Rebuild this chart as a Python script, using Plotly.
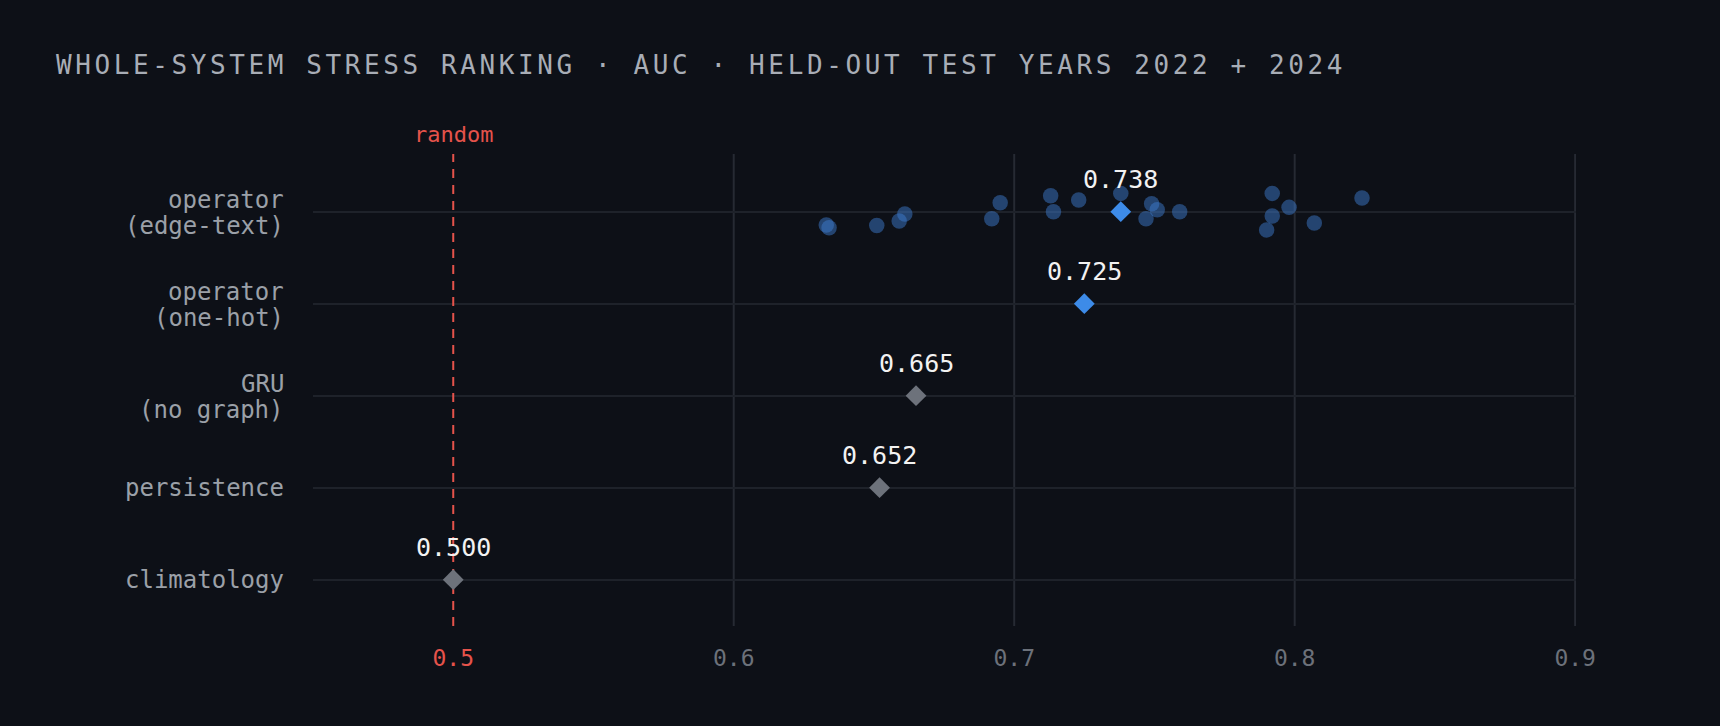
import plotly.graph_objects as go

# ---- data ----
models = ["climatology", "persistence", "GRU<br>(no graph)", "operator<br>(one-hot)", "operator<br>(edge-text)"]
model_auc = [0.500, 0.652, 0.665, 0.725, 0.738]
model_kind = ["baseline", "baseline", "baseline", "operator", "operator"]

seed_model = "operator<br>(edge-text)"
seed_auc = [0.633, 0.634, 0.651, 0.659, 0.661, 0.692, 0.695, 0.713, 0.714, 0.723, 0.738,
            0.749, 0.747, 0.751, 0.759, 0.792, 0.792, 0.790, 0.798, 0.807, 0.824]
seed_jitter = [-0.145, -0.174, -0.149, -0.101, -0.025, -0.076, 0.098, 0.174, 0.0, 0.127, 0.199,
               0.087, -0.076, 0.022, 0.0, 0.199, -0.047, -0.199, 0.047, -0.123, 0.149]

x_ticks = [0.5, 0.6, 0.7, 0.8, 0.9]
random_auc = 0.5

# ---- style ----
BG = "#0d1017"
FONT = "DejaVu Sans Mono"
RED = "#e5534b"
BLUE = "#3d8be8"
GREY = "#6d727b"
kind_color = {"baseline": GREY, "operator": BLUE}
Y_RANGE = [-0.503, 4.627]

ypos = {m: i for i, m in enumerate(models)}

fig = go.Figure()

# random reference line (drawn first so markers sit on top)
fig.add_trace(go.Scatter(
    x=[random_auc, random_auc], y=Y_RANGE, mode="lines",
    line=dict(color=RED, width=2, dash="9px,7px"),
    hoverinfo="skip", showlegend=False,
))

# seed scatter
fig.add_trace(go.Scatter(
    x=seed_auc,
    y=[ypos[seed_model] + j for j in seed_jitter],
    mode="markers",
    marker=dict(size=15.5, color="rgba(62,125,210,0.48)", line=dict(width=0)),
    hoverinfo="x",
    showlegend=False,
))

# model diamonds
fig.add_trace(go.Scatter(
    x=model_auc,
    y=[ypos[m] for m in models],
    mode="markers",
    marker=dict(symbol="diamond", size=16, color=[kind_color[k] for k in model_kind], line=dict(width=0)),
    hoverinfo="x",
    showlegend=False,
))

for m, a in zip(models, model_auc):
    fig.add_annotation(x=a, y=ypos[m], text=f"{a:.3f}", showarrow=False,
                       yanchor="middle", yshift=32,
                       font=dict(family=FONT, size=25, color="#f2f2f2"))

# category labels (one annotation per text line for tighter line spacing)
for m in models:
    lines = m.split("<br>")
    shifts = [0] if len(lines) == 1 else [12, -14]
    for ln, sh in zip(lines, shifts):
        fig.add_annotation(x=0, xref="paper", y=ypos[m], yref="y", text=ln, showarrow=False,
                           xanchor="right", yanchor="middle", xshift=-27, yshift=sh,
                           font=dict(family=FONT, size=24, color="#9ba0a8"))

# vertical grid lines (skip the one under the random line)
for v in x_ticks:
    if v != random_auc:
        fig.add_shape(type="line", x0=v, x1=v, y0=0, y1=1, xref="x", yref="paper",
                      line=dict(color="#262a33", width=2), layer="below")

fig.add_annotation(x=random_auc, y=1, xref="x", yref="paper", text="random", showarrow=False,
                   yanchor="bottom", yshift=5, font=dict(family=FONT, size=22, color=RED))

ticktext = [f'<span style="color:{RED}">{v:.1f}</span>' if v == random_auc else f"{v:.1f}" for v in x_ticks]

fig.update_layout(
    width=1720, height=726,
    paper_bgcolor=BG, plot_bgcolor=BG,
    margin=dict(l=313, r=144, t=154, b=100),
    title=dict(text="WHOLE-SYSTEM STRESS RANKING · AUC · HELD-OUT TEST YEARS 2022 + 2024",
               x=56 / 1720, xanchor="left", xref="container",
               y=1 - 64.5 / 726, yanchor="middle", yref="container",
               font=dict(family=FONT, size=26, color="#a8adb6")),
    xaxis=dict(range=[0.45, 0.9003], tickvals=x_ticks, ticktext=ticktext,
               showgrid=False, zeroline=False, showline=False, ticks="",
               ticklabelstandoff=16,
               tickfont=dict(family=FONT, size=23, color="#6c717a")),
    yaxis=dict(range=Y_RANGE, tickvals=list(range(len(models))), showticklabels=False,
               showgrid=True, gridcolor="#1e222a", gridwidth=2,
               zeroline=False, showline=False, ticks=""),
    font=dict(family=FONT),
)

post = """
var s = document.createElement('style');
s.textContent = '.gtitle { letter-spacing: 3.6px; }';
document.head.appendChild(s);
"""
fig.write_html("out.html", post_script=post)
